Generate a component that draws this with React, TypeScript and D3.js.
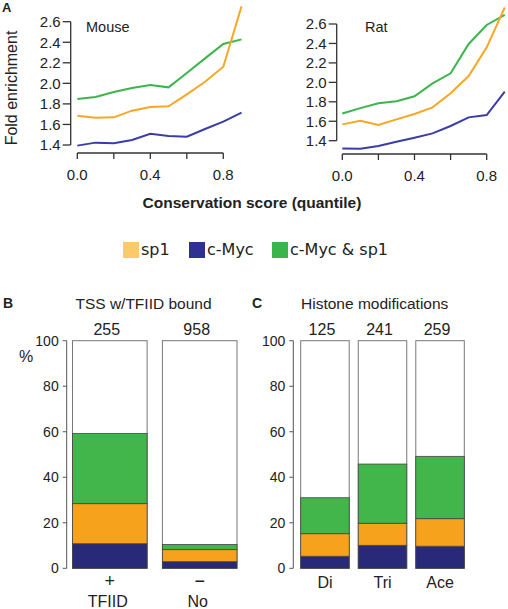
import React from "react";
import * as d3 from "d3";

// ---------- Panel A data ----------
const quantiles = [0.0, 0.1, 0.2, 0.3, 0.4, 0.5, 0.6, 0.7, 0.8, 0.9];
const mouseSp1 = [1.685, 1.666, 1.669, 1.734, 1.77, 1.776, 1.893, 2.016, 2.162, 2.75];
const mouseMyc = [1.394, 1.423, 1.416, 1.449, 1.51, 1.488, 1.481, 1.556, 1.627, 1.715];
const mouseBoth = [1.848, 1.867, 1.916, 1.955, 1.984, 1.961, 2.1, 2.243, 2.383, 2.428];
const ratSp1 = [1.568, 1.606, 1.561, 1.619, 1.674, 1.743, 1.887, 2.065, 2.36, 2.77];
const ratMyc = [1.321, 1.318, 1.345, 1.39, 1.431, 1.475, 1.551, 1.64, 1.664, 1.904];
const ratBoth = [1.68, 1.735, 1.785, 1.805, 1.857, 1.99, 2.093, 2.395, 2.59, 2.693];
const foldTicks = [1.4, 1.6, 1.8, 2.0, 2.2, 2.4, 2.6];
const quantTicks = [0.0, 0.2, 0.4, 0.6, 0.8];
const quantLabelTicks = [0.0, 0.4, 0.8];

// ---------- Legend ----------
const seriesNames = ["sp1", "c-Myc", "c-Myc & sp1"];

// ---------- Panel B data ----------
const tfiidCats = ["+", "\u2212"];
const tfiidNames = ["TFIID", "No"];
const tfiidCounts = [255, 958];
const tfiidMyc = [10.8, 2.9];
const tfiidSp1 = [17.6, 5.3];
const tfiidBoth = [30.8, 2.3];

// ---------- Panel C data ----------
const histCats = ["Di", "Tri", "Ace"];
const histCounts = [125, 241, 259];
const histMyc = [5.3, 10.1, 9.7];
const histSp1 = [9.9, 9.7, 12.1];
const histBoth = [15.8, 26.0, 27.4];
const pctTicks = [0, 20, 40, 60, 80, 100];

const LINE_SP1 = "#f6a723";
const LINE_MYC = "#3a3ca8";
const LINE_BOTH = "#3cb54a";
const BAR_SP1 = "#f7a21c";
const BAR_MYC = "#29297a";
const BAR_BOTH = "#42b64a";
const LEG = ["#fdc96b", "#2e3192", "#3ab54a"];

const FONT = "'Liberation Sans', Arial, Helvetica, sans-serif";
const TXT = "#222";

function LinePanel({ x0, x1, yTop, yBot, axisX, axisY, sp1, myc, both, name, nameX }: any) {
  const x = d3.scaleLinear().domain([0, 0.8]).range([x0, x1]);
  const y = d3.scaleLinear().domain([1.4, 2.6]).range([yBot, yTop]);
  const line = d3
    .line<number>()
    .x((_, i) => x(quantiles[i]))
    .y((d) => y(d));
  return (
    <g>
      <line x1={axisX} x2={axisX} y1={y(2.6)} y2={y(1.4)} stroke="#333" strokeWidth={1.3} />
      {foldTicks.map((t) => (
        <g key={t}>
          <line x1={axisX - 8} x2={axisX} y1={y(t)} y2={y(t)} stroke="#333" strokeWidth={1.3} />
          <text x={axisX - 10} y={y(t)} dy="0.36em" textAnchor="end" fontSize={15} fill={TXT} fontFamily={FONT}>
            {t.toFixed(1)}
          </text>
        </g>
      ))}
      <line x1={x(0)} x2={x(0.8)} y1={axisY} y2={axisY} stroke="#333" strokeWidth={1.3} />
      {quantTicks.map((t) => (
        <line key={t} x1={x(t)} x2={x(t)} y1={axisY} y2={axisY + 6} stroke="#333" strokeWidth={1.3} />
      ))}
      {quantLabelTicks.map((t) => (
        <text key={t} x={x(t)} y={axisY + 27} textAnchor="middle" fontSize={15} fill={TXT} fontFamily={FONT}>
          {t.toFixed(1)}
        </text>
      ))}
      <path d={line(both) || ""} fill="none" stroke={LINE_BOTH} strokeWidth={2} />
      <path d={line(sp1) || ""} fill="none" stroke={LINE_SP1} strokeWidth={2} />
      <path d={line(myc) || ""} fill="none" stroke={LINE_MYC} strokeWidth={2} />
      <text x={nameX} y={32} fontSize={14.5} fill={TXT} fontFamily={FONT}>
        {name}
      </text>
    </g>
  );
}

function BarPanel({ cats, counts, myc, sp1, both, r0, r1, pad, axisX }: any) {
  const x = d3.scaleBand<string>().domain(cats).range([r0, r1]).paddingInner(pad);
  const y = d3.scaleLinear().domain([0, 100]).range([568.3, 340.7]);
  const stackData = cats.map((c: string, i: number) => ({ cat: c, myc: myc[i], sp1: sp1[i], both: both[i] }));
  const stack = d3.stack<any>().keys(["myc", "sp1", "both"])(stackData);
  const colors: any = { myc: BAR_MYC, sp1: BAR_SP1, both: BAR_BOTH };
  return (
    <g>
      <line x1={axisX} x2={axisX} y1={y(0)} y2={y(100)} stroke="#555" strokeWidth={1} />
      {pctTicks.map((t) => (
        <g key={t}>
          <line x1={axisX - 4} x2={axisX} y1={y(t)} y2={y(t)} stroke="#555" strokeWidth={1} />
          <text x={axisX - 8} y={y(t)} dy="0.36em" textAnchor="end" fontSize={14} fill={TXT} fontFamily={FONT}>
            {t}
          </text>
        </g>
      ))}
      {cats.map((c: string) => (
        <rect key={c} x={x(c)} y={y(100)} width={x.bandwidth()} height={y(0) - y(100)} fill="#fff" stroke="#777" strokeWidth={1} />
      ))}
      {stack.map((layer: any) =>
        layer.map((d: any, i: number) => (
          <rect
            key={layer.key + i}
            x={x(cats[i])}
            y={y(d[1])}
            width={x.bandwidth()}
            height={y(d[0]) - y(d[1])}
            fill={colors[layer.key]}
            stroke="#444"
            strokeWidth={0.8}
          />
        ))
      )}
      {cats.map((c: string, i: number) => (
        <text key={"n" + c} x={(x(c) as number) + x.bandwidth() / 2 - 3} y={335} textAnchor="middle" fontSize={16} fill={TXT} fontFamily={FONT}>
          {counts[i]}
        </text>
      ))}
    </g>
  );
}

export default function App() {
  const bx = d3.scaleBand<string>().domain(tfiidCats).range([72.5, 237]).paddingInner(0.17);
  const cx = d3.scaleBand<string>().domain(histCats).range([300.7, 464.3]).paddingInner(0.157);
  const legX = [123, 189, 272];
  return (
    <svg width={508} height={609} style={{ position: "absolute", left: 0, top: 0, background: "#fff" }}>
      <rect width={508} height={609} fill="#fff" />
      {/* Panel A */}
      <text x={2} y={12} fontSize={13} fontWeight="bold" fill={TXT} fontFamily={FONT}>
        A
      </text>
      <text transform="translate(17,88) rotate(-90)" textAnchor="middle" fontSize={16} fill={TXT} fontFamily={FONT}>
        Fold enrichment
      </text>
      <LinePanel x0={77.3} x1={223.3} yTop={21.7} yBot={145} axisX={70.7} axisY={153} sp1={mouseSp1} myc={mouseMyc} both={mouseBoth} name="Mouse" nameX={86} />
      <LinePanel x0={342.3} x1={486.7} yTop={24} yBot={140.7} axisX={336.7} axisY={154} sp1={ratSp1} myc={ratMyc} both={ratBoth} name="Rat" nameX={365} />
      <text x={252} y={208} textAnchor="middle" fontSize={15.5} fontWeight="bold" fill={TXT} fontFamily={FONT}>
        Conservation score (quantile)
      </text>
      {/* Legend */}
      {seriesNames.map((s, i) => (
        <g key={s}>
          <rect x={legX[i]} y={242} width={16} height={16} fill={LEG[i]} />
          <text x={legX[i] + 18} y={255} fontSize={16} fill={TXT} fontFamily="'DejaVu Sans', sans-serif">
            {s}
          </text>
        </g>
      ))}
      {/* Panel B */}
      <text x={3} y={308} fontSize={14} fontWeight="bold" fill={TXT} fontFamily={FONT}>
        B
      </text>
      <text x={143.5} y={309} textAnchor="middle" fontSize={15.5} fill={TXT} fontFamily={FONT}>
        TSS w/TFIID bound
      </text>
      <text x={26} y={362} textAnchor="middle" fontSize={16} fill={TXT} fontFamily={FONT}>
        %
      </text>
      <BarPanel cats={tfiidCats} counts={tfiidCounts} myc={tfiidMyc} sp1={tfiidSp1} both={tfiidBoth} r0={72.5} r1={237} pad={0.17} axisX={66.7} />
      {tfiidCats.map((c, i) => (
        <g key={c}>
          <text x={(bx(c) as number) + bx.bandwidth() / 2} y={587} textAnchor="middle" fontSize={18} fill={TXT} fontFamily={FONT}>
            {c}
          </text>
          <text x={(bx(c) as number) + bx.bandwidth() / 2 - 2} y={607} textAnchor="middle" fontSize={16} fill={TXT} fontFamily={FONT}>
            {tfiidNames[i]}
          </text>
        </g>
      ))}
      {/* Panel C */}
      <text x={252} y={308} fontSize={14} fontWeight="bold" fill={TXT} fontFamily={FONT}>
        C
      </text>
      <text x={374.7} y={309} textAnchor="middle" fontSize={15.5} fill={TXT} fontFamily={FONT}>
        Histone modifications
      </text>
      <BarPanel cats={histCats} counts={histCounts} myc={histMyc} sp1={histSp1} both={histBoth} r0={300.7} r1={464.3} pad={0.157} axisX={293.3} />
      {histCats.map((c) => (
        <text key={c} x={(cx(c) as number) + cx.bandwidth() / 2} y={588} textAnchor="middle" fontSize={16} fill={TXT} fontFamily={FONT}>
          {c}
        </text>
      ))}
    </svg>
  );
}
